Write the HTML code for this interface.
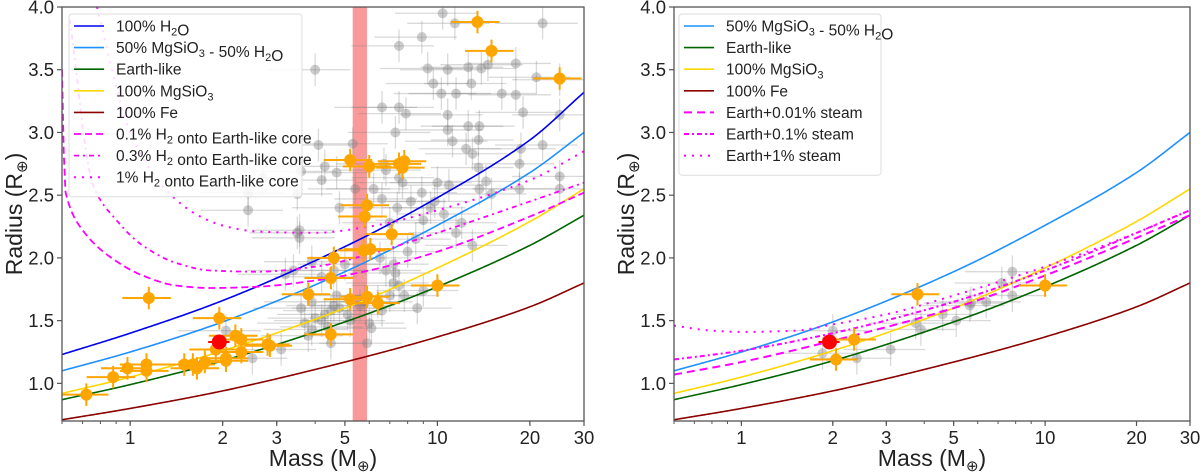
<!DOCTYPE html>
<html><head><meta charset="utf-8"><style>
html,body{margin:0;padding:0;background:#fff;}
svg{display:block;font-family:"Liberation Sans",sans-serif;}
</style></head><body>
<svg id="chart" width="1200" height="473" viewBox="0 0 1200 473"></svg>
<script>
// ---------- data ----------
const modelMass = [0.6, 1, 2, 5, 10, 20, 30];
const h2oRadius = [1.23, 1.40, 1.66, 2.09, 2.48, 2.94, 3.32];
const halfRadius = [1.10, 1.25, 1.49, 1.89, 2.26, 2.68, 3.00];
const earthRadius = [0.87, 0.99, 1.18, 1.49, 1.77, 2.10, 2.34];
const mgsio3Radius = [0.92, 1.05, 1.26, 1.60, 1.92, 2.29, 2.55];
const feRadius = [0.71, 0.80, 0.94, 1.17, 1.37, 1.61, 1.80];

const h2a_M = [0.6, 0.614, 0.701, 0.858, 1.097, 1.41, 1.82, 2.59, 4, 6, 10, 20, 30];
const h2a_R = [3.5, 2.54, 2.22, 2.01, 1.86, 1.78, 1.76, 1.77, 1.82, 1.9, 2.05, 2.33, 2.52];
const h2b_M = [0.636, 0.757, 0.903, 1.097, 1.41, 1.82, 2.59, 4, 6, 10, 20, 30];
const h2b_R = [3.9, 2.58, 2.30, 2.10, 1.96, 1.90, 1.89, 1.93, 2.03, 2.2, 2.45, 2.6];
const h2c_M = [0.78, 1.0, 1.31, 1.69, 2.06, 2.59, 4, 6, 10, 20, 30];
const h2c_R = [4.0, 3.0, 2.54, 2.33, 2.25, 2.21, 2.2, 2.25, 2.38, 2.62, 2.85];

const st1_M = [0.6, 1, 2, 5, 10, 30];
const st1_R = [1.07, 1.17, 1.34, 1.60, 1.86, 2.34];
const st2_M = [0.6, 1, 2, 5, 10, 30];
const st2_R = [1.19, 1.26, 1.40, 1.65, 1.90, 2.38];
const st3_M = [0.6, 0.8, 1, 1.5, 2, 3, 5, 10, 20, 30];
const st3_R = [1.46, 1.42, 1.41, 1.42, 1.47, 1.55, 1.70, 1.93, 2.20, 2.38];

const greyMass = [10.4,8.9,7.5,11.4,22,4.0,10.8,13.9,14.6,18,21,12.6,9.3,10.3,9.7,12.9,11.5,16.2,18,6.6,7.5,7.9,7.3,10.8,10.8,12.6,13.7,11.2,13.6,12.4,13,19,18.7,4.1,5.3,4.7,4.3,3.6,4.2,3.5,6.7,6.8,7.5,7.7,10,8.9,10.9,13.6,14.4,18.5,25,13.7,15,18.5,25,22,25,25,
2.7,2.42,2.42,3.56,3.56,3.2,3.4,3.9,4.2,4.6,5.0,6.5,7.2,8,8.5,9,9.5,10.5,11.5,13,12,7.4,8.2,9.8,7,6.2,6.6,5.4,4.8,3.5,
2.05,2.5,3.1,3.7,3.9,4.0,4.2,4.3,4.5,4.6,4.8,5.2,5.6,5.8,6,6.1,6.4,6.6,7.0,7.5,7.8,8.6,9.0,7.2,3.8,4.5,5.9,4.4,5.1,4.7,6.8,7.3,3.6,3.9];
const greyRadius = [3.95,3.76,3.69,3.87,3.87,3.5,3.5,3.51,3.54,3.55,3.44,3.52,3.51,3.31,3.39,3.39,3.31,3.31,3.30,3.2,3.2,3.15,3.0,3.14,3.02,3.05,3.05,2.93,2.94,2.87,2.83,3.16,2.87,2.9,2.91,2.68,2.73,2.69,2.62,2.51,2.75,2.70,2.64,2.6,2.6,2.52,2.58,2.72,2.61,2.75,2.65,2.55,2.51,2.55,2.55,2.9,3.14,3.42,
2.64,2.52,2.38,2.22,2.16,1.87,1.9,1.97,1.85,1.9,1.95,2.0,1.95,2.05,2.15,2.3,2.4,2.35,2.2,2.1,2.28,2.4,2.45,2.45,2.28,2.55,2.47,2.55,2.4,2.2,
1.42,1.2,1.27,1.48,1.43,1.52,1.5,1.55,1.58,1.62,1.6,1.5,1.62,1.65,1.48,1.44,1.65,1.58,1.7,1.78,1.7,1.6,1.74,1.8,1.38,1.32,1.32,1.45,1.55,1.7,1.9,1.88,1.6,1.65];

const orangeMass = [0.72,0.88,0.98,1.13,1.13,1.15,1.5,1.6,1.65,1.75,1.9,1.95,2.05,2.05,2.2,2.3,2.3,2.8,2.85,3.8,4.5,4.5,5.2,5.9,6.4,10,4.6,5.2,6.0,5.9,5.8,5.75,6.05,7.1,7.5,7.8,7.7,13.5,15,25];
const orangeRadius = [0.91,1.05,1.12,1.15,1.10,1.68,1.15,1.15,1.12,1.17,1.27,1.52,1.18,1.2,1.38,1.35,1.25,1.31,1.3,1.71,1.84,1.39,1.67,1.69,1.64,1.78,2.0,2.78,2.73,2.42,2.33,2.06,2.07,2.19,2.75,2.77,2.72,3.88,3.65,3.43];

const rightGreyMass = [2.0,1.85,2.4,3.1,3.75,3.9,4.6,5.1,5.7,6.4,7.2,7.8,7.8,5.65];
const rightGreyRadius = [1.42,1.24,1.2,1.27,1.48,1.43,1.55,1.5,1.64,1.65,1.8,1.89,1.7,1.62];
const rightOrangeMass = [2.05,2.35,3.8,10];
const rightOrangeRadius = [1.19,1.35,1.71,1.78];
const targetMass = [1.95];
const targetRadius = [1.33];

const bandMass = [5.3, 5.9];
const yTicks = [1.0,1.5,2.0,2.5,3.0,3.5,4.0];
const yTickLabels = ["1.0","1.5","2.0","2.5","3.0","3.5","4.0"];
const xTicks = [1,2,3,5,10,20,30];
const xTickLabels = ["1","2","3","5","10","20","30"];

// ---------- helpers ----------
const NS = "http://www.w3.org/2000/svg";
const svg = document.getElementById('chart');
function mk(tag, attrs, parent){ const e=document.createElementNS(NS,tag); for(const k in attrs) e.setAttribute(k,attrs[k]); (parent||svg).appendChild(e); return e; }
const XMIN=0.6, XMAX=30, YMIN=0.7, YMAX=4.0, Y0=7, Y1=421;
function makeAxes(x0,x1){
  return {
    x: m => x0 + Math.log10(m/XMIN)/Math.log10(XMAX/XMIN)*(x1-x0),
    y: r => Y0 + (YMAX-r)/(YMAX-YMIN)*(Y1-Y0),
    x0, x1
  };
}
// smooth cubic Hermite interpolation in log-mass
function interp(Ms, Rs, m){
  const X=Ms.map(v=>Math.log10(v)), n=X.length, lm=Math.log10(m);
  const slope=(i)=>{
    if(i===0) return (Rs[1]-Rs[0])/(X[1]-X[0]);
    if(i===n-1) return (Rs[n-1]-Rs[n-2])/(X[n-1]-X[n-2]);
    const s0=(Rs[i]-Rs[i-1])/(X[i]-X[i-1]), s1=(Rs[i+1]-Rs[i])/(X[i+1]-X[i]);
    if(s0*s1<=0) return 0;
    return 2/(1/s0+1/s1);
  };
  for(let i=0;i<n-1;i++){
    if(lm>=X[i]-1e-12 && lm<=X[i+1]+1e-12){
      const h=X[i+1]-X[i], t=(lm-X[i])/h;
      const h00=2*t*t*t-3*t*t+1, h10=t*t*t-2*t*t+t, h01=-2*t*t*t+3*t*t, h11=t*t*t-t*t;
      return h00*Rs[i]+h10*h*slope(i)+h01*Rs[i+1]+h11*h*slope(i+1);
    }
  }
  return Rs[n-1];
}
function curvePath(ax, Ms, Rs){
  let d=""; const lo=Math.log10(Ms[0]), hi=Math.log10(Ms[Ms.length-1]);
  for(let i=0;i<=300;i++){
    const m=Math.pow(10, lo+(hi-lo)*i/300); const r=interp(Ms,Rs,m);
    d += (i?"L":"M") + ax.x(m).toFixed(2)+","+ax.y(r).toFixed(2);
  }
  return d;
}
function panel(ax, name){
  const g = mk('g',{},svg);
  
  
  const cp = mk('clipPath',{id:name+'-clip'},g);
  mk('rect',{x:ax.x0,y:Y0,width:ax.x1-ax.x0,height:Y1-Y0},cp);
  const plot = mk('g',{'clip-path':'url(#'+name+'-clip)'},g);
  return {g, plot};
}
function drawCurve(ax, parent, Ms, Rs, color, dash, nm, w){
  const p = mk('path',{d:curvePath(ax,Ms,Rs),fill:'none',stroke:color,'stroke-width':w||1.6,'stroke-dasharray':dash||'none'},parent);
  
  
}
function drawPoints(ax, parent, Ms, Rs, kind, nm){
  for(let i=0;i<Ms.length;i++){
    const cx=ax.x(Ms[i]), cy=ax.y(Rs[i]);
    const g=mk('g',{},parent);
    
    
    let col, xe, ye, r, sw;
    if(kind==='grey'){ col='rgba(128,128,128,0.3)'; xe=0.3; ye=0.13; r=5; sw=1.3; }
    else if(kind==='orange'){ col='#ffa500'; xe=0.18; ye=0.09; r=6; sw=2; }
    else { col='#ff0000'; xe=0.08; ye=0.02; r=7.5; sw=2; }
    mk('line',{x1:ax.x(Ms[i]*(1-xe)),x2:ax.x(Ms[i]*(1+xe)),y1:cy,y2:cy,stroke:col,'stroke-width':sw},g);
    mk('line',{x1:cx,x2:cx,y1:ax.y(Rs[i]-ye),y2:ax.y(Rs[i]+ye),stroke:col,'stroke-width':sw},g);
    mk('circle',{cx,cy,r,fill: kind==='grey'?'rgba(128,128,128,0.4)':col},g);
  }
}
function frame(ax, g){
  mk('rect',{x:ax.x0,y:Y0,width:ax.x1-ax.x0,height:Y1-Y0,fill:'none',stroke:'#555','stroke-width':1.3},g);
  yTicks.forEach((t,i)=>{
    const y=ax.y(t);
    mk('line',{x1:ax.x0-5,x2:ax.x0,y1:y,y2:y,stroke:'#555','stroke-width':1.2},g);
    const tx=mk('text',{x:ax.x0-8,y:y+6.5,'text-anchor':'end','font-size':18.5,fill:'#222'},g);
    tx.textContent=yTickLabels[i];
    
    
  });
  for(let d=0.1; d<=10; d*=10){
    for(let k=1;k<10;k++){ const m=k*d; if(m<XMIN||m>XMAX) continue;
      mk('line',{x1:ax.x(m),x2:ax.x(m),y1:Y1,y2:Y1+3,stroke:'#555','stroke-width':1},g); }
  }
  mk('line',{x1:ax.x(30),x2:ax.x(30),y1:Y1,y2:Y1+3,stroke:'#555'},g);
  xTicks.forEach((t,i)=>{
    const x=ax.x(t);
    mk('line',{x1:x,x2:x,y1:Y1,y2:Y1+5,stroke:'#555','stroke-width':1.2},g);
    const tx=mk('text',{x:x,y:Y1+23,'text-anchor':'middle','font-size':18.5,fill:'#222'},g);
    tx.textContent=xTickLabels[i];
    
    
  });
  const xl=mk('text',{x:(ax.x0+ax.x1)/2,y:466,'text-anchor':'middle','font-size':23,fill:'#222'},g);
  xl.innerHTML='Mass (M<tspan font-size="15" dy="5">⊕</tspan><tspan dy="-5">)</tspan>';
  
  
  const yl=mk('text',{x:0,y:0,'text-anchor':'middle','font-size':23,fill:'#222',transform:`translate(${ax.x0-40},214) rotate(-90)`},g);
  yl.innerHTML='Radius (R<tspan font-size="15" dy="5">⊕</tspan><tspan dy="-5">)</tspan>';
  
  
}
function legend(x, y, w, entries, nm){
  const g=mk('g',{},svg);
  
  
  mk('rect',{x,y,width:w,height:entries.length*21.6+10,rx:3,fill:'rgba(255,255,255,0.85)',stroke:'#ddd'},g);
  entries.forEach((e,i)=>{
    const cy=y+12+i*21.6;
    const eg=mk('g',{},g);
    
    
    mk('line',{x1:x+5,x2:x+35,y1:cy,y2:cy,stroke:e[1],'stroke-width':e[3]||1.6,'stroke-dasharray':e[2]||'none'},eg);
    const t=mk('text',{x:x+47,y:cy+5.5,'font-size':15.5,fill:'#222'},eg);
    t.innerHTML=e[0];
  });
}
const sub=s=>`<tspan font-size="11" dy="4">${s}</tspan><tspan dy="-4"></tspan>`;

// ---------- left panel ----------
const L = makeAxes(62,584);
const lp = panel(L,'left-panel');
const band = mk('rect',{x:L.x(bandMass[0]),y:Y0,width:L.x(bandMass[1])-L.x(bandMass[0]),height:Y1-Y0,fill:'rgba(248,110,110,0.7)'},lp.plot);


drawPoints(L, lp.plot, greyMass, greyRadius, 'grey', 'grey-planet');
drawCurve(L, lp.plot, modelMass, h2oRadius, '#0000ee', null, 'curve-h2o');
drawCurve(L, lp.plot, modelMass, halfRadius, '#1e90ff', null, 'curve-half-water');
drawCurve(L, lp.plot, modelMass, earthRadius, '#006400', null, 'curve-earth-like');
drawCurve(L, lp.plot, modelMass, mgsio3Radius, '#ffd700', null, 'curve-mgsio3');
drawCurve(L, lp.plot, modelMass, feRadius, '#8b0000', null, 'curve-fe');
drawCurve(L, lp.plot, h2a_M, h2a_R, '#ff00ff', '7,4', 'curve-h2-0.1', 1.8);
drawCurve(L, lp.plot, h2b_M, h2b_R, '#ff00ff', '5,4,2,4', 'curve-h2-0.3', 1.8);
drawCurve(L, lp.plot, h2c_M, h2c_R, '#ff00ff', '2,6', 'curve-h2-1', 2);
drawPoints(L, lp.plot, orangeMass, orangeRadius, 'orange', 'orange-planet');
drawPoints(L, lp.plot, targetMass, targetRadius, 'red', 'target-planet');
frame(L, lp.g);
legend(69,14,233,[
  ['100% H'+sub('2')+'O','#0000ee'],
  ['50% MgSiO'+sub('3')+' - 50% H'+sub('2')+'O','#1e90ff'],
  ['Earth-like','#006400'],
  ['100% MgSiO'+sub('3'),'#ffd700'],
  ['100% Fe','#8b0000'],
  ['0.1% H'+sub('2')+' onto Earth-like core','#ff00ff','7,4',1.8],
  ['0.3% H'+sub('2')+' onto Earth-like core','#ff00ff','5,4,2,4',1.8],
  ['1% H'+sub('2')+' onto Earth-like core','#ff00ff','2,6',2]
],'left-legend');

// ---------- right panel ----------
const R = makeAxes(674,1190);
const rp = panel(R,'right-panel');
drawPoints(R, rp.plot, rightGreyMass, rightGreyRadius, 'grey', 'grey-planet');
drawCurve(R, rp.plot, modelMass, halfRadius, '#1e90ff', null, 'curve-half-water');
drawCurve(R, rp.plot, modelMass, earthRadius, '#006400', null, 'curve-earth-like');
drawCurve(R, rp.plot, modelMass, mgsio3Radius, '#ffd700', null, 'curve-mgsio3');
drawCurve(R, rp.plot, modelMass, feRadius, '#8b0000', null, 'curve-fe');
drawCurve(R, rp.plot, st1_M, st1_R, '#ff00ff', '8,5', 'curve-steam-0.01', 2);
drawCurve(R, rp.plot, st2_M, st2_R, '#ff00ff', '5,3,2,3', 'curve-steam-0.1', 2);
drawCurve(R, rp.plot, st3_M, st3_R, '#ff00ff', '2,6', 'curve-steam-1', 2);
drawPoints(R, rp.plot, rightOrangeMass, rightOrangeRadius, 'orange', 'orange-planet');
drawPoints(R, rp.plot, targetMass, targetRadius, 'red', 'target-planet');
frame(R, rp.g);
legend(679,14,202,[
  ['50% MgSiO'+sub('3')+' - 50% H'+sub('2')+'O','#1e90ff'],
  ['Earth-like','#006400'],
  ['100% MgSiO'+sub('3'),'#ffd700'],
  ['100% Fe','#8b0000'],
  ['Earth+0.01% steam','#ff00ff','8,5',2],
  ['Earth+0.1% steam','#ff00ff','5,3,2,3',2],
  ['Earth+1% steam','#ff00ff','2,6',2]
],'right-legend');
</script>
</body></html>
